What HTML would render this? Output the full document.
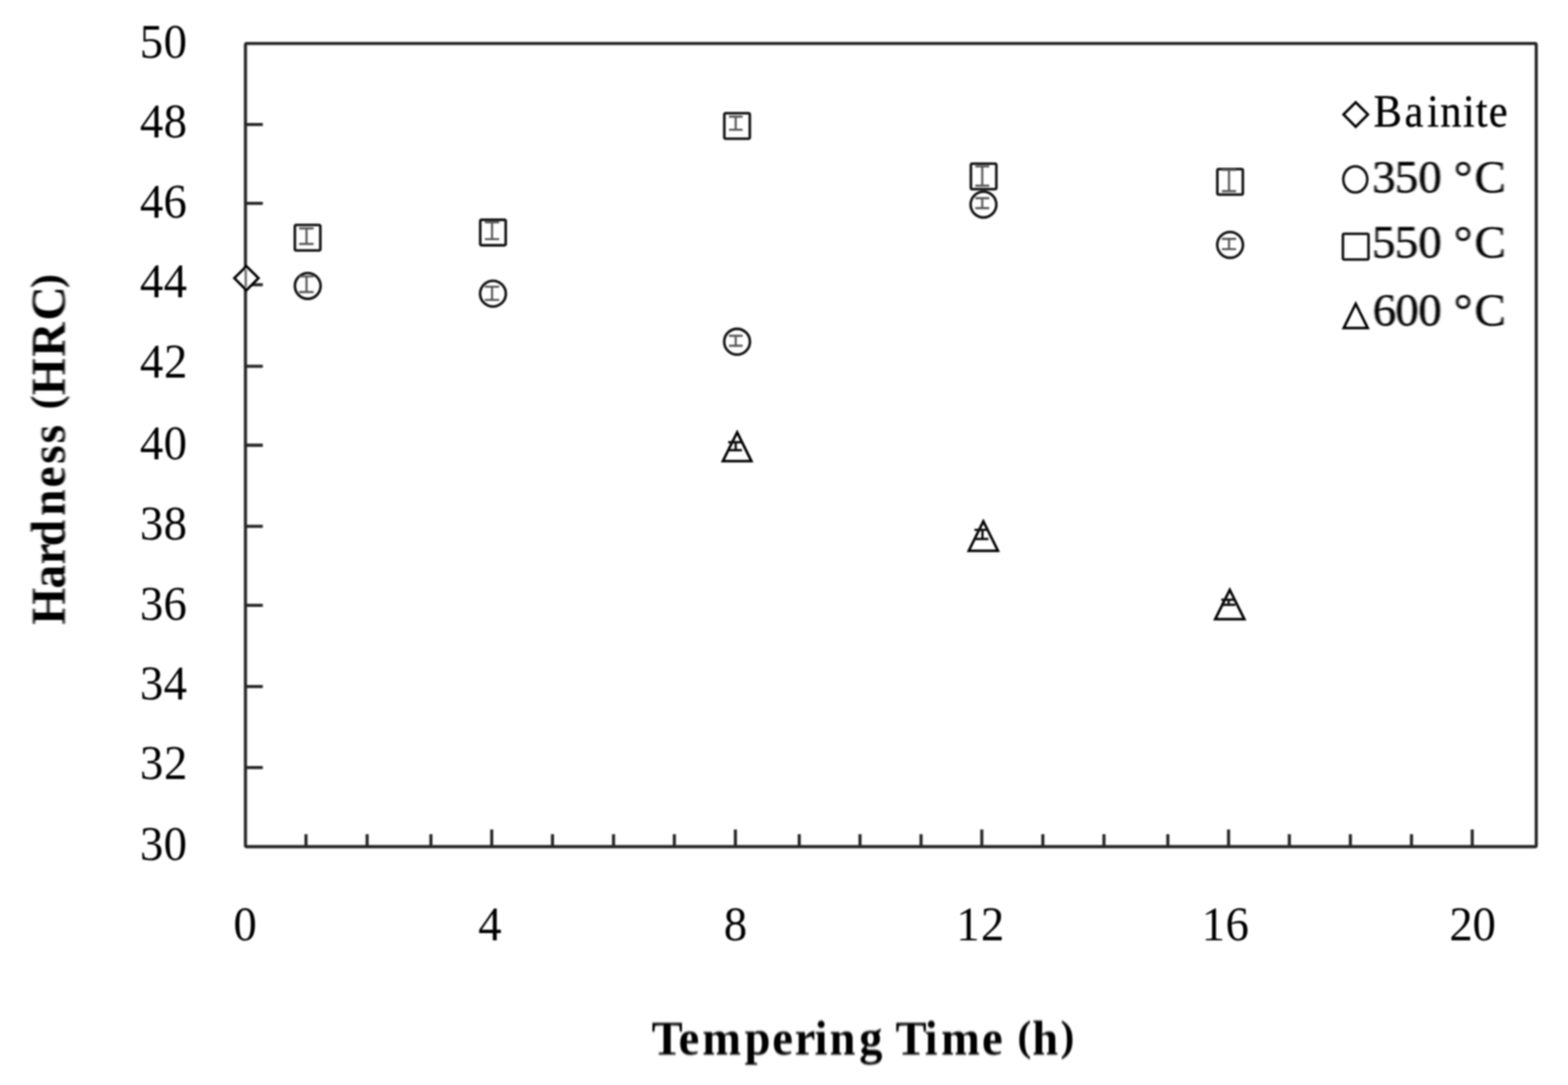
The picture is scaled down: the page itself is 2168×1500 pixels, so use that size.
<!DOCTYPE html>
<html lang="en"><head><meta charset="utf-8"><title>Hardness vs Tempering Time</title>
<style>
html,body{margin:0;padding:0;background:#fff;}
body{width:2168px;height:1500px;overflow:hidden;}
svg{display:block;filter:blur(1.0px);}
text{font-family:"Liberation Serif",serif;fill:#000;white-space:pre;filter:blur(0.8px);}
.lg{stroke:#000;stroke-width:0.5px;}
.ttl{font-weight:bold;}
</style></head><body>
<svg width="2168" height="1500" viewBox="0 0 2168 1500" role="img" aria-label="Hardness (HRC) versus tempering time (h)">
<rect x="-10" y="-10" width="2188" height="1520" fill="#fff"/>
<g fill="none" stroke="#262626" stroke-width="4.3" stroke-linecap="butt" stroke-linejoin="round">
<rect x="339.4" y="60.2" width="1784.7" height="1110.3" rx="1.8"/>
<path d="M423.1 1170.5V1153.3M507.6 1170.5V1153.3M595.8 1170.5V1153.3M679.9 1170.5V1146.8M763.9 1170.5V1153.3M848.3 1170.5V1153.3M932.4 1170.5V1153.3M1016.8 1170.5V1146.8M1105.1 1170.5V1153.3M1189.1 1170.5V1153.3M1273.5 1170.5V1153.3M1357.5 1170.5V1146.8M1441.9 1170.5V1153.3M1526.4 1170.5V1153.3M1614.7 1170.5V1153.3M1698.7 1170.5V1146.8M1782.7 1170.5V1153.3M1867.1 1170.5V1153.3M1951.6 1170.5V1153.3M2035.6 1170.5V1146.8M339.4 172.2H363.4M339.4 281.2H363.4M339.4 393.6H363.4M339.4 506.3H363.4M339.4 615.5H363.4M339.4 727.6H363.4M339.4 836.8H363.4M339.4 949.2H363.4M339.4 1061.2H363.4"/>
</g>
<g>
<path d="M340.7 367.9L357.4 384.6L340.7 401.3L324 384.6Z" fill="#fff" stroke="#000" stroke-width="3.5" stroke-linejoin="miter"/>
<path d="M339.8 373V396.7" stroke="#6a6a6a" stroke-width="3.2" fill="none"/>
<ellipse cx="425.5" cy="395.3" rx="17.8" ry="17.8" fill="#fff" stroke="#101010" stroke-width="3.6"/>
<path d="M423.8 382.1V403.8M413.6 382.1H433.6M413.6 403.8H433.6" fill="none" stroke="#555" stroke-width="2.9"/>
<ellipse cx="681.6" cy="406" rx="17.8" ry="17.8" fill="#fff" stroke="#101010" stroke-width="3.6"/>
<path d="M680.3 396.4V414.6M670.4 396.4H690.2M670.4 414.6H690.2" fill="none" stroke="#555" stroke-width="2.9"/>
<ellipse cx="1019.1" cy="472.4" rx="17.8" ry="17.8" fill="#fff" stroke="#101010" stroke-width="3.6"/>
<path d="M1017.2 464.3V478M1008 464.3H1026.8M1008 478H1026.8" fill="none" stroke="#555" stroke-width="2.9"/>
<ellipse cx="1359.8" cy="282.8" rx="17.8" ry="17.8" fill="#fff" stroke="#101010" stroke-width="3.6"/>
<path d="M1358.1 274V287.7M1348.5 274H1367.8M1348.5 287.7H1367.8" fill="none" stroke="#555" stroke-width="2.9"/>
<ellipse cx="1700.8" cy="338.6" rx="17.8" ry="17.8" fill="#fff" stroke="#101010" stroke-width="3.6"/>
<path d="M1699.3 330.2V344.4M1689.5 330.2H1709.1M1689.5 344.4H1709.1" fill="none" stroke="#555" stroke-width="2.9"/>
<rect x="407.7" y="311" width="35.2" height="35.2" rx="2" fill="#fff" stroke="#101010" stroke-width="3.6"/>
<path d="M423.8 315.8V337.3M413.6 315.8H433.6M413.6 337.3H433.6" fill="none" stroke="#555" stroke-width="2.9"/>
<rect x="664" y="303.9" width="35.2" height="35.2" rx="2" fill="#fff" stroke="#101010" stroke-width="3.6"/>
<path d="M680.3 307.3V330.6M670.4 307.3H690.2M670.4 330.6H690.2" fill="none" stroke="#555" stroke-width="2.9"/>
<rect x="1001.5" y="156.5" width="35.2" height="35.2" rx="2" fill="#fff" stroke="#101010" stroke-width="3.6"/>
<path d="M1017.2 161.2V179.4M1008 161.2H1026.8M1008 179.4H1026.8" fill="none" stroke="#555" stroke-width="2.9"/>
<rect x="1342.4" y="226.3" width="35.2" height="35.2" rx="2" fill="#fff" stroke="#101010" stroke-width="3.6"/>
<path d="M1358.1 230V256.7M1348.5 230H1367.8M1348.5 256.7H1367.8" fill="none" stroke="#555" stroke-width="2.9"/>
<rect x="1683.2" y="233.8" width="35.2" height="35.2" rx="2" fill="#fff" stroke="#101010" stroke-width="3.6"/>
<path d="M1699.3 234.8V264.3M1689.5 234.8H1709.1M1689.5 264.3H1709.1" fill="none" stroke="#555" stroke-width="2.9"/>
<path d="M1019.2 597.6L1039 637.6L999.4 637.6Z" fill="#fff" stroke="#000" stroke-width="3.5" stroke-linejoin="miter"/>
<path d="M1017.2 611.4V622.3M1006.8 611.4H1025.8M1006.8 622.3H1025.8" fill="none" stroke="#0a0a0a" stroke-width="3.2"/>
<path d="M1359.65 720.8L1379.85 761.4L1339.45 761.4Z" fill="#fff" stroke="#000" stroke-width="3.5" stroke-linejoin="miter"/>
<path d="M1358.4 732.5V745.1M1347.3 732.5H1366.6M1347.3 745.1H1366.6" fill="none" stroke="#0a0a0a" stroke-width="3.2"/>
<path d="M1700.35 815.5L1720.55 856.1L1680.15 856.1Z" fill="#fff" stroke="#000" stroke-width="3.5" stroke-linejoin="miter"/>
<path d="M1698.8 829.2V836.2M1688.6 829.2H1708M1688.6 836.2H1708" fill="none" stroke="#0a0a0a" stroke-width="3.2"/>
</g>
<g>
<path d="M1874.5 141.4L1891.4 158.3L1874.5 175.2L1857.6 158.3Z" fill="none" stroke="#000" stroke-width="3.5" stroke-linejoin="miter"/>
<ellipse cx="1873.9" cy="248" rx="16.6" ry="18.0" fill="none" stroke="#101010" stroke-width="3.6"/>
<rect x="1856.8" y="323.3" width="35.4" height="35.4" rx="2" fill="none" stroke="#101010" stroke-width="3.6"/>
<path d="M1874.5 420L1891.1 453.6L1857.9 453.6Z" fill="none" stroke="#000" stroke-width="3.5" stroke-linejoin="miter"/>
<text class="lg" transform="translate(0 174.8) scale(0.9 0.97)" x="2110.42 2157.88 2192.57 2212.83 2247.57 2267.18 2287.1" y="0" style="font-size:65px">Bainite</text>
<text class="lg" transform="translate(0 265.8) scale(1 0.97)" x="1897.26 1928.63 1961.05 1993.55 2009.93 2038.88" y="0" style="font-size:65px">350 °C</text>
<text class="lg" transform="translate(0 356.4) scale(1 0.97)" x="1896.93 1928.63 1961.05 1993.55 2009.93 2038.88" y="0" style="font-size:65px">550 °C</text>
<text class="lg" transform="translate(0 450) scale(1 0.97)" x="1898.02 1929.3 1961.05 1993.55 2009.93 2038.88" y="0" style="font-size:65px">600 °C</text>
</g>
<g class="tk">
<text class="" transform="translate(0 80.2) scale(0.95 0.98)" x="203.3 238.26" y="0" style="font-size:68px">50</text>
<text class="" transform="translate(0 190.3) scale(0.95 0.98)" x="203.81 238.26" y="0" style="font-size:68px">48</text>
<text class="" transform="translate(0 301.1) scale(0.95 0.98)" x="203.81 237.81" y="0" style="font-size:68px">46</text>
<text class="" transform="translate(0 410.8) scale(0.95 0.98)" x="203.81 238.13" y="0" style="font-size:68px">44</text>
<text class="" transform="translate(0 521.5) scale(0.95 0.98)" x="203.81 238.64" y="0" style="font-size:68px">42</text>
<text class="" transform="translate(0 634.5) scale(0.95 0.98)" x="203.81 238.26" y="0" style="font-size:68px">40</text>
<text class="" transform="translate(0 746) scale(0.95 0.98)" x="203.65 238.26" y="0" style="font-size:68px">38</text>
<text class="" transform="translate(0 856.8) scale(0.95 0.98)" x="203.65 237.81" y="0" style="font-size:68px">36</text>
<text class="" transform="translate(0 967) scale(0.95 0.98)" x="203.65 238.13" y="0" style="font-size:68px">34</text>
<text class="" transform="translate(0 1077.2) scale(0.95 0.98)" x="203.65 238.64" y="0" style="font-size:68px">32</text>
<text class="" transform="translate(0 1188.8) scale(0.95 0.98)" x="203.65 238.26" y="0" style="font-size:68px">30</text>
<text class="" transform="translate(0 1299.8) scale(0.95 0.98)" x="339.63" y="0" style="font-size:68px">0</text>
<text class="" transform="translate(0 1299.8) scale(0.95 0.98)" x="696.03" y="0" style="font-size:68px">4</text>
<text class="" transform="translate(0 1299.8) scale(0.95 0.98)" x="1053.53" y="0" style="font-size:68px">8</text>
<text class="" transform="translate(0 1299.8) scale(0.95 0.98)" x="1391.84 1427.54" y="0" style="font-size:68px">12</text>
<text class="" transform="translate(0 1299.8) scale(0.95 0.98)" x="1748.9 1783.71" y="0" style="font-size:68px">16</text>
<text class="" transform="translate(0 1299.8) scale(0.95 0.98)" x="2109.54 2143.26" y="0" style="font-size:68px">20</text>
</g>
<text class="ttl" transform="translate(0 1457.8) scale(0.96 1)" style="font-size:67px"><tspan x="938.52 977.3 1011.45 1072.35 1112.2 1144.59 1173.1 1194.83 1237.49 1270.99 1289.83 1331.91 1355.52 1414.33 1444.07" y="0" style="font-size:67px">Tempering Time </tspan><tspan x="1465.28" y="-5.7" style="font-size:60px">(</tspan><tspan x="1486.61" y="0" style="font-size:67px">h</tspan><tspan x="1527.44" y="-5.7" style="font-size:60px">)</tspan></text>
<text class="ttl" transform="translate(89.5 864) rotate(-90) scale(0.975 1)" style="font-size:67.5px"><tspan x="0.24 51.52 85.66 111.52 154.58 194.95 228.41 257.49 283.76" y="0" style="font-size:67.5px">Hardness </tspan><tspan x="305.71" y="-5.7" style="font-size:60px">(</tspan><tspan x="325.78 380.34 431.52" y="0" style="font-size:67.5px">HRC</tspan><tspan x="477.64" y="-5.7" style="font-size:60px">)</tspan></text>
</svg>
</body></html>
